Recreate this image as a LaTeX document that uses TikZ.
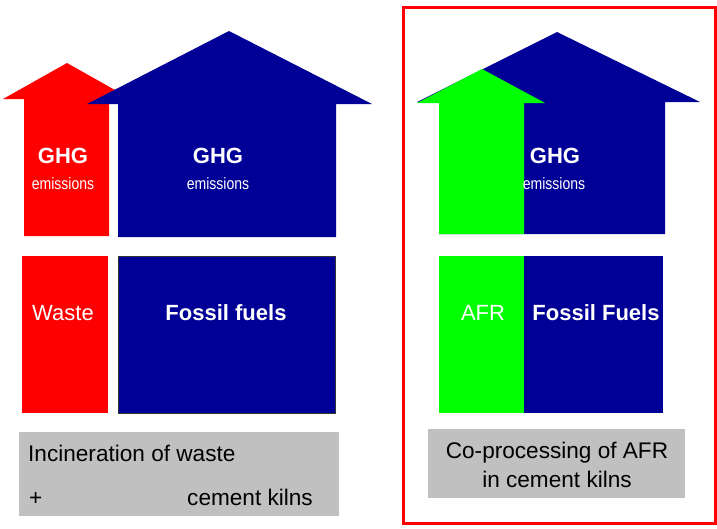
\documentclass[tikz,border=0pt]{standalone}
\usepackage{fontspec}
\setmainfont{Liberation Sans}
\newfontfamily\narrowfont[FakeStretch=0.85]{Liberation Sans}
\definecolor{navy}{RGB}{0,0,150}
\definecolor{lime}{RGB}{0,255,0}
\definecolor{panel}{RGB}{192,192,192}
\begin{document}
\begin{tikzpicture}[x=1pt,y=-1pt,
  big/.style={text=white,font=\fontsize{22}{26}\selectfont,anchor=base,inner sep=0pt},
  small/.style={text=white,font=\narrowfont\fontsize{16.5}{19}\selectfont,anchor=base,inner sep=0pt},
  dark/.style={text=black,font=\fontsize{22.6}{26}\selectfont,anchor=base,inner sep=0pt}]
\useasboundingbox (0,0) rectangle (717,528);

% left: incineration + kilns
\fill[color=red] (24,236) -- (24,99) -- (3,99) -- (67,63) -- (131,99) -- (109,99) -- (109,236) -- cycle;
\fill[color=navy] (118,237) -- (118,104) -- (87,104) -- (229,31) -- (372,104) -- (336,104) -- (336,237) -- cycle;
\fill[color=red] (22,256) rectangle (108,413);
\filldraw[fill=navy,draw=black!80,line width=0.6pt] (118,256) rectangle (335,413);
\fill[color=panel] (19,432) rectangle (339,516);

\node[big] (ghgw) at (63,163) {\bfseries GHG};
\node[small] (emw) at (63,189) {emissions};
\node[big] (ghgf) at (218,163) {\bfseries GHG};
\node[small] (emf) at (218,189) {emissions};
\node[big] (waste) at (63,320) {Waste};
\node[big] (fossil) at (226,320) {\bfseries Fossil fuels};
\node[dark,anchor=base west] (incin) at (28,461) {Incineration of waste};
\node[dark,anchor=base west] (plus) at (29,505) {+};
\node[dark,anchor=base west] (kilns) at (187,505) {cement kilns};

% right: co-processing
\draw[color=red,line width=3pt] (403,7) rectangle (715,523);
\fill[color=navy] (439,234) -- (439,102) -- (417,102) -- (557,32) -- (700,102) -- (665,102) -- (665,234) -- cycle;
\fill[color=lime] (439,234) -- (439,103) -- (417,103) -- (482,69) -- (545,103) -- (524,103) -- (524,234) -- cycle;
\fill[color=lime] (439,256) rectangle (524,413);
\fill[color=navy] (524,256) rectangle (663,413);
\fill[color=panel] (428,429) rectangle (685,498);

\node[big] (ghgc) at (555,163) {\bfseries GHG};
\node[small] (emc) at (554,189) {emissions};
\node[big] (afr) at (483,320) {AFR};
\node[big] (fossilc) at (596,320) {\bfseries Fossil Fuels};
\node[dark] (copro) at (557,458) {Co-processing of AFR};
\node[dark] (copro2) at (557,487) {in cement kilns};
\end{tikzpicture}
\end{document}
